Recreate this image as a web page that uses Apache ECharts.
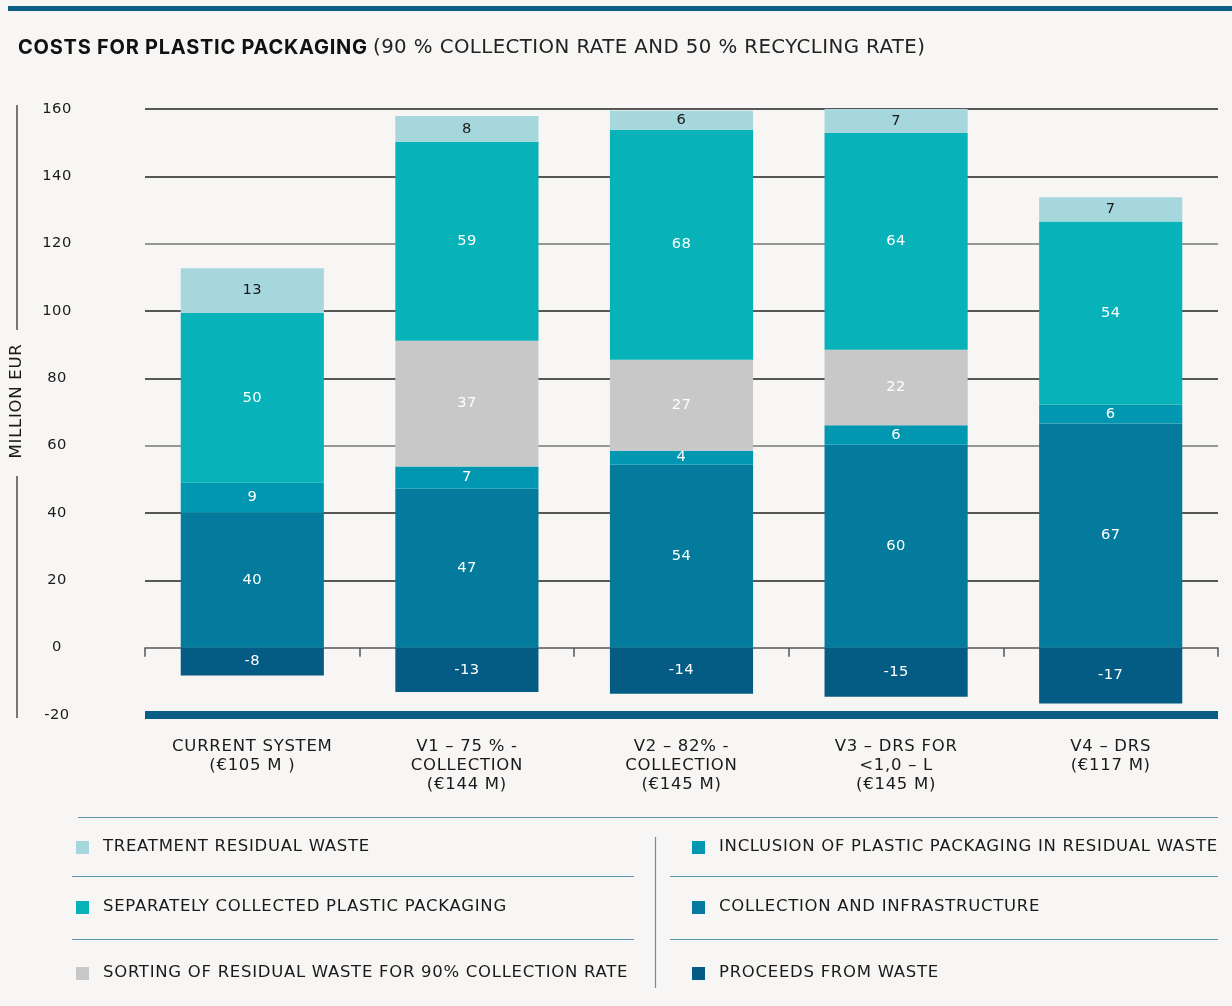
<!DOCTYPE html>
<html>
<head>
<meta charset="utf-8">
<script src="https://cdn.jsdelivr.net/npm/echarts@6/dist/echarts.min.js"></script>
<style>
html,body{margin:0;padding:0;background:#f7f6f4;}
#c{width:1232px;height:1006px;}
</style>
</head>
<body>
<div id="c"></div>
<script>
const categories = [
  "CURRENT SYSTEM\n(€105 M )",
  "V1 – 75 % -\nCOLLECTION\n(€144 M)",
  "V2 – 82% -\nCOLLECTION\n(€145 M)",
  "V3 – DRS FOR\n<1,0 – L\n(€145 M)",
  "V4 – DRS\n(€117 M)"
];
const proceedsFromWaste = [-8.3, -13.2, -13.7, -14.6, -16.6];
const collectionInfrastructure = [40.1, 47.2, 54.3, 60.3, 66.6];
const inclusionResidual = [8.9, 6.6, 4.2, 5.8, 5.6];
const sortingResidual = [null, 37.4, 27.0, 22.4, null];
const separatelyCollected = [50.4, 59.1, 68.3, 64.4, 54.4];
const treatmentResidual = [13.3, 7.6, 5.7, 7.4, 7.2];
const yTicks = [-20, 0, 20, 40, 60, 80, 100, 120, 140, 160];

const names = {
  tr: "TREATMENT RESIDUAL WASTE",
  sc: "SEPARATELY COLLECTED PLASTIC PACKAGING",
  so: "SORTING OF RESIDUAL WASTE FOR 90% COLLECTION RATE",
  inc: "INCLUSION OF PLASTIC PACKAGING IN RESIDUAL WASTE",
  ci: "COLLECTION AND INFRASTRUCTURE",
  pw: "PROCEEDS FROM WASTE"
};
const colors = {
  tr: "#a5d7dc", sc: "#07b2b9", so: "#c8c8c8",
  inc: "#0297b0", ci: "#047a9c", pw: "#045b83"
};
const FONT = "DejaVu Sans";

// The reference typeface is an extended grotesque: widen glyphs slightly when drawn.
(function () {
  const proto = CanvasRenderingContext2D.prototype;
  const orig = proto.fillText;
  proto.fillText = function (text, x, y) {
    const f = this.font || "";
    const m = /(\d+(?:\.\d+)?)px/.exec(f);
    const size = m ? parseFloat(m[1]) : 12;
    const bold = /bold|[6-9]00/.test(f);
    let sx = 1, ls = 0;
    if (size >= 18.5) { if (bold) { sx = 1; ls = 0.75; } else { sx = 1.04; ls = 0.4; } }
    else if (size >= 14.5) { sx = 1.1; ls = 0.65; }
    else if (size >= 13.5) { sx = 1.05; ls = 0.4; }
    try { this.letterSpacing = ls + "px"; } catch (e) {}
    if (sx === 1) return orig.call(this, text, x, y);
    this.save();
    this.translate(x, y);
    this.scale(sx, 1);
    orig.call(this, text, 0, 0);
    this.restore();
  };
})();

function mkSeries(key, data, labelColor) {
  return {
    name: names[key], type: "bar", stack: "s", data: data,
    barWidth: "66.7%",
    itemStyle: { color: colors[key] },
    label: {
      show: true, position: "inside", color: labelColor,
      fontFamily: FONT, fontSize: 14,
      formatter: p => (p.value == null ? "" : String(Math.round(p.value)))
    }
  };
}

function mkLegend(key, left, top) {
  return {
    data: [names[key]], left: left, top: top, padding: 0,
    icon: "rect", itemWidth: 13, itemHeight: 13,
    selectedMode: false,
    textStyle: { fontFamily: FONT, fontSize: 15, color: "#1a1a1a", padding: [0, 0, 0, 9] }
  };
}

const chart = echarts.init(document.getElementById("c"), null, { renderer: "canvas" });
chart.setOption({
  backgroundColor: "#f7f6f4",
  animation: false,
  title: [
    {
      left: 18, top: 38, padding: 0,
      text: "COSTS FOR PLASTIC PACKAGING",
      textStyle: { fontFamily: "Inter", fontWeight: "bold", fontSize: 20, color: "#111" }
    },
    {
      left: 373, top: 39, padding: 0,
      text: "(90 % COLLECTION RATE AND 50 % RECYCLING RATE)",
      textStyle: { fontFamily: FONT, fontWeight: "normal", fontSize: 19, color: "#222" }
    }
  ],
  grid: { left: 145, right: 14, top: 109, bottom: 291, containLabel: false, outerBoundsMode: "none" },
  legend: [
    mkLegend("tr", 76, 840),
    mkLegend("sc", 76, 900),
    mkLegend("so", 76, 966),
    mkLegend("inc", 692, 840),
    mkLegend("ci", 692, 900),
    mkLegend("pw", 692, 966)
  ],
  xAxis: [
    {
      type: "category", data: categories,
      axisLine: { onZero: true, lineStyle: { color: "#777", width: 1.5 } },
      axisTick: { show: true, length: 9, lineStyle: { color: "#555", width: 1.5 } },
      axisLabel: { show: false },
      splitLine: { show: false }
    },
    {
      type: "category", data: categories, position: "bottom",
      axisLine: { onZero: false, show: true, lineStyle: { color: "#0a5e85", width: 8, cap: "butt" } },
      axisTick: { show: false },
      axisLabel: {
        show: true, margin: 23, interval: 0,
        fontFamily: FONT, fontSize: 15, color: "#1a1a1a", lineHeight: 19, align: "center"
      }
    }
  ],
  yAxis: {
    type: "value", min: -20, max: 160, interval: 20,
    axisLine: { show: false }, axisTick: { show: false },
    axisLabel: {
      fontFamily: FONT, fontSize: 14, color: "#1a1a1a", margin: 88, align: "center",
      formatter: v => (yTicks.indexOf(v) >= 0 ? String(v) : "")
    },
    splitLine: {
      show: true,
      lineStyle: { width: 1.5, color: ["#0a5e85", "#777", "#222", "#222", "#777", "#222", "#222", "#777", "#222", "#222"] }
    }
  },
  series: [
    mkSeries("pw", proceedsFromWaste, "#fff"),
    mkSeries("ci", collectionInfrastructure, "#fff"),
    mkSeries("inc", inclusionResidual, "#fff"),
    mkSeries("so", sortingResidual, "#fff"),
    mkSeries("sc", separatelyCollected, "#fff"),
    mkSeries("tr", treatmentResidual, "#1a1a1a")
  ],
  graphic: [
    { type: "rect", shape: { x: 8, y: 6, width: 1224, height: 5 }, style: { fill: "#0b5e85" } },
    { type: "text", x: 17, y: 401, rotation: Math.PI / 2,
      style: { text: "MILLION EUR", fontFamily: FONT, fontSize: 15, fill: "#1a1a1a", align: "center", verticalAlign: "middle" } },
    { type: "line", shape: { x1: 17, y1: 105, x2: 17, y2: 330 }, style: { stroke: "#222", lineWidth: 1.2 } },
    { type: "line", shape: { x1: 17, y1: 476, x2: 17, y2: 718 }, style: { stroke: "#222", lineWidth: 1.2 } },
    { type: "line", shape: { x1: 78, y1: 817.5, x2: 1218, y2: 817.5 }, style: { stroke: "#5f93b0", lineWidth: 1.2 } },
    { type: "line", shape: { x1: 72, y1: 876.5, x2: 634, y2: 876.5 }, style: { stroke: "#5f93b0", lineWidth: 1.2 } },
    { type: "line", shape: { x1: 72, y1: 939.5, x2: 634, y2: 939.5 }, style: { stroke: "#5f93b0", lineWidth: 1.2 } },
    { type: "line", shape: { x1: 670, y1: 876.5, x2: 1218, y2: 876.5 }, style: { stroke: "#5f93b0", lineWidth: 1.2 } },
    { type: "line", shape: { x1: 670, y1: 939.5, x2: 1218, y2: 939.5 }, style: { stroke: "#5f93b0", lineWidth: 1.2 } },
    { type: "line", shape: { x1: 655.5, y1: 837, x2: 655.5, y2: 988 }, style: { stroke: "#5f93b0", lineWidth: 1.2 } }
  ]
});
</script>
</body>
</html>
